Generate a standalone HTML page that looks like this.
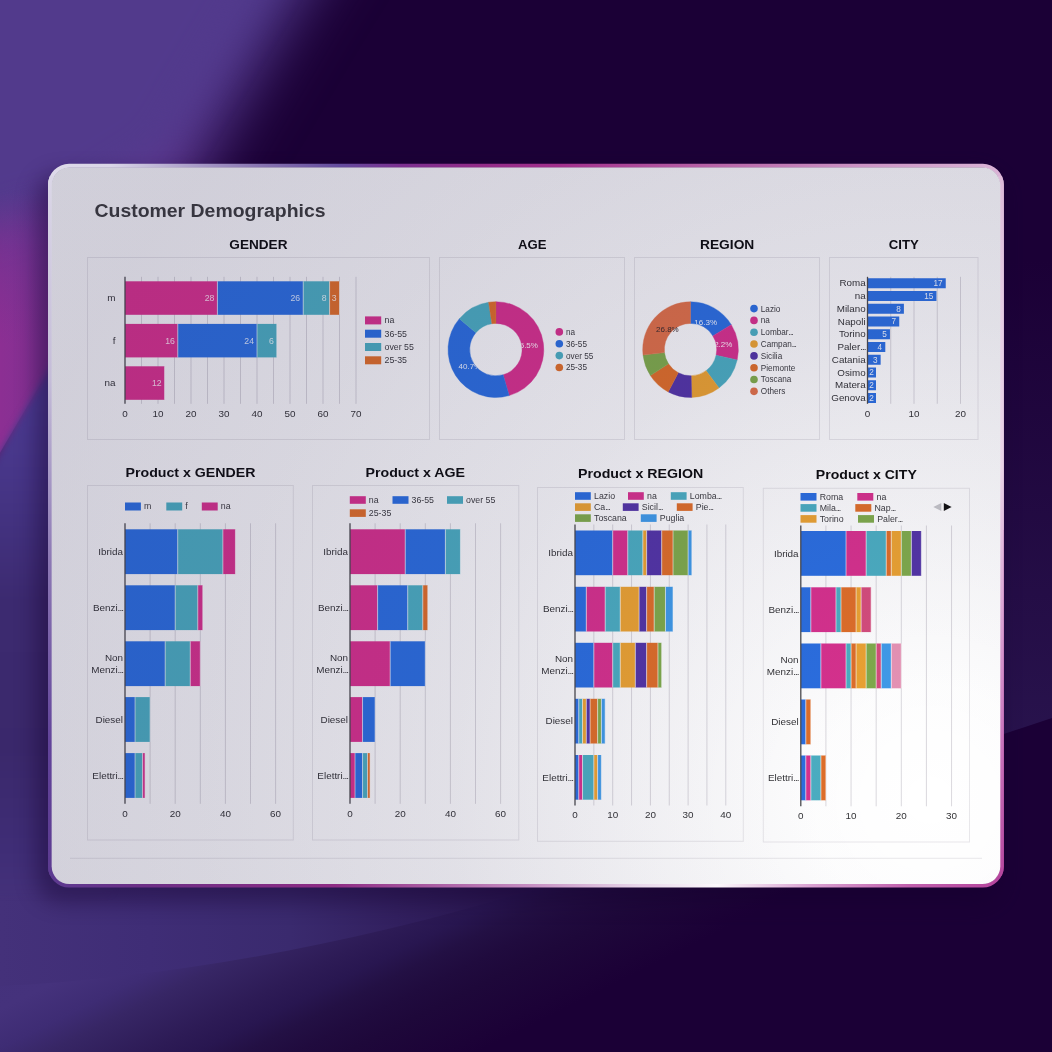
<!DOCTYPE html>
<html><head><meta charset="utf-8"><title>Customer Demographics</title>
<style>
html,body{margin:0;padding:0;width:1052px;height:1052px;overflow:hidden;background:#1b0036;}
svg{position:absolute;left:0;top:0;display:block;font-family:"Liberation Sans",sans-serif;}
</style></head><body>
<svg width="1052" height="1052" viewBox="0 0 1052 1052">
<defs>
<filter id="b30" color-interpolation-filters="sRGB" filterUnits="userSpaceOnUse" x="-300" y="-300" width="1652" height="1652"><feGaussianBlur stdDeviation="30"/></filter>
<filter id="b18" color-interpolation-filters="sRGB" filterUnits="userSpaceOnUse" x="-300" y="-300" width="1652" height="1652"><feGaussianBlur stdDeviation="18"/></filter>
<filter id="b8" color-interpolation-filters="sRGB" filterUnits="userSpaceOnUse" x="-300" y="-300" width="1652" height="1652"><feGaussianBlur stdDeviation="8"/></filter>
<filter id="soft" color-interpolation-filters="sRGB" filterUnits="userSpaceOnUse" x="40" y="150" width="980" height="750"><feGaussianBlur stdDeviation="0.35"/></filter>
<filter id="b12" color-interpolation-filters="sRGB" filterUnits="userSpaceOnUse" x="-300" y="-300" width="1652" height="1652"><feGaussianBlur stdDeviation="11"/></filter>
<filter id="b2" color-interpolation-filters="sRGB" filterUnits="userSpaceOnUse" x="-300" y="-300" width="1652" height="1652"><feGaussianBlur stdDeviation="1.2"/></filter>
<linearGradient id="tl" x1="0" y1="0" x2="0" y2="1">
 <stop offset="0" stop-color="#4f3a8c"/><stop offset="0.35" stop-color="#573a90"/><stop offset="0.62" stop-color="#743292"/><stop offset="0.8" stop-color="#862f92"/><stop offset="1" stop-color="#862f92"/>
</linearGradient>
<linearGradient id="bl" gradientUnits="userSpaceOnUse" x1="0" y1="900" x2="156.5" y2="1213">
 <stop offset="0" stop-color="#42307a"/><stop offset="0.28" stop-color="#45327c"/><stop offset="0.38" stop-color="#3e2c74"/><stop offset="0.45" stop-color="#372665"/><stop offset="0.575" stop-color="#2d1b56"/><stop offset="0.64" stop-color="#281650"/><stop offset="0.70" stop-color="#231044"/><stop offset="0.765" stop-color="#200b3e"/><stop offset="0.83" stop-color="#1e083a"/><stop offset="0.96" stop-color="#1c0237"/><stop offset="1" stop-color="#1b0036"/>
</linearGradient>
<linearGradient id="arcl" gradientUnits="userSpaceOnUse" x1="0" y1="0" x2="660" y2="0">
 <stop offset="0" stop-color="#44317a"/><stop offset="0.227" stop-color="#3f2d76"/><stop offset="0.44" stop-color="#3a2a6e"/><stop offset="0.6" stop-color="#32205f"/><stop offset="0.68" stop-color="#2e1c58"/><stop offset="0.82" stop-color="#27134b"/><stop offset="0.94" stop-color="#1f0a3c"/><stop offset="1" stop-color="#1b0036"/>
</linearGradient>
<linearGradient id="rs" gradientUnits="userSpaceOnUse" x1="0" y1="260" x2="0" y2="730">
 <stop offset="0" stop-color="#2b1752" stop-opacity="0"/><stop offset="0.5" stop-color="#2b1752" stop-opacity="0.4"/><stop offset="1" stop-color="#2b1752" stop-opacity="0.8"/>
</linearGradient>
<linearGradient id="lf" gradientUnits="userSpaceOnUse" x1="0" y1="400" x2="0" y2="900">
 <stop offset="0" stop-color="#4b3b92"/><stop offset="0.12" stop-color="#48378a"/><stop offset="0.26" stop-color="#42317e"/><stop offset="0.4" stop-color="#3c2a70"/><stop offset="0.7" stop-color="#3a286b"/><stop offset="0.9" stop-color="#3f2d76"/><stop offset="1" stop-color="#44317a"/>
</linearGradient>
<linearGradient id="mgv" gradientUnits="userSpaceOnUse" x1="0" y1="190" x2="0" y2="345">
 <stop offset="0" stop-color="#8a2f92" stop-opacity="0"/><stop offset="0.5" stop-color="#8a2f92" stop-opacity="0.5"/><stop offset="1" stop-color="#8c2f93" stop-opacity="1"/>
</linearGradient>
<linearGradient id="mgh" gradientUnits="userSpaceOnUse" x1="0" y1="0" x2="60" y2="0">
 <stop offset="0" stop-color="#5a3890" stop-opacity="0"/><stop offset="0.4" stop-color="#5a3890" stop-opacity="0.12"/><stop offset="1" stop-color="#5a3890" stop-opacity="0.5"/>
</linearGradient>
<filter id="b4" color-interpolation-filters="sRGB" filterUnits="userSpaceOnUse" x="-300" y="-300" width="1652" height="1652"><feGaussianBlur stdDeviation="3.5"/></filter>
<radialGradient id="ov" gradientUnits="userSpaceOnUse" cx="930" cy="800" r="960"><stop offset="0" stop-color="#221a4c" stop-opacity="0.0000"/><stop offset="0.12" stop-color="#221a4c" stop-opacity="0.0096"/><stop offset="0.3" stop-color="#221a4c" stop-opacity="0.0560"/><stop offset="0.5" stop-color="#221a4c" stop-opacity="0.1080"/><stop offset="0.75" stop-color="#221a4c" stop-opacity="0.1440"/><stop offset="1" stop-color="#221a4c" stop-opacity="0.1680"/></radialGradient>
<radialGradient id="cf" gradientUnits="userSpaceOnUse" cx="930" cy="800" r="960"><stop offset="0" stop-color="#221a4c" stop-opacity="0.0000"/><stop offset="0.12" stop-color="#221a4c" stop-opacity="0.0024"/><stop offset="0.3" stop-color="#221a4c" stop-opacity="0.0148"/><stop offset="0.5" stop-color="#221a4c" stop-opacity="0.0303"/><stop offset="0.75" stop-color="#221a4c" stop-opacity="0.0421"/><stop offset="1" stop-color="#221a4c" stop-opacity="0.0505"/></radialGradient>
<linearGradient id="btop" gradientUnits="userSpaceOnUse" x1="48" y1="0" x2="1004" y2="0">
 <stop offset="0" stop-color="#dedae9"/><stop offset="0.065" stop-color="#dad6e7"/><stop offset="0.16" stop-color="#a698c6"/><stop offset="0.23" stop-color="#8470ae"/><stop offset="0.305" stop-color="#644c9e"/><stop offset="0.37" stop-color="#7c3090"/><stop offset="0.45" stop-color="#922c88"/><stop offset="0.535" stop-color="#a2308c"/><stop offset="0.7" stop-color="#b866a8"/><stop offset="0.85" stop-color="#cc94c4"/><stop offset="1" stop-color="#dab4d6"/>
</linearGradient>
<linearGradient id="bbot" gradientUnits="userSpaceOnUse" x1="48" y1="0" x2="1004" y2="0">
 <stop offset="0" stop-color="#5c3a90"/><stop offset="0.1" stop-color="#6c2f86"/><stop offset="0.3" stop-color="#8e2c84"/><stop offset="0.5" stop-color="#c48cc0"/><stop offset="0.62" stop-color="#e8d8ea"/><stop offset="0.7" stop-color="#fbf8fb"/><stop offset="0.8" stop-color="#d8a0d0"/><stop offset="0.9" stop-color="#c060ac"/><stop offset="1" stop-color="#b4449c"/>
</linearGradient>
<linearGradient id="blef" gradientUnits="userSpaceOnUse" x1="0" y1="164" x2="0" y2="887">
 <stop offset="0" stop-color="#dcd8e8"/><stop offset="0.3" stop-color="#c4bcd8"/><stop offset="0.55" stop-color="#8c78b4"/><stop offset="0.8" stop-color="#62449a"/><stop offset="1" stop-color="#5c3a90"/>
</linearGradient>
<linearGradient id="brig" gradientUnits="userSpaceOnUse" x1="0" y1="164" x2="0" y2="887">
 <stop offset="0" stop-color="#dcb8d8"/><stop offset="0.2" stop-color="#e6cce4"/><stop offset="0.42" stop-color="#ead4e8"/><stop offset="0.6" stop-color="#dcaad6"/><stop offset="0.8" stop-color="#c874bc"/><stop offset="1" stop-color="#b4449c"/>
</linearGradient>
<radialGradient id="mg" gradientUnits="userSpaceOnUse" cx="-10" cy="345" r="150">
 <stop offset="0" stop-color="#8e2f93" stop-opacity="1"/><stop offset="0.5" stop-color="#882f92" stop-opacity="0.8"/><stop offset="1" stop-color="#8c2f94" stop-opacity="0"/>
</radialGradient>
<clipPath id="ring"><path clip-rule="evenodd" d="M69.0,163.8 H982.8 A21.0,21.0 0 0 1 1003.8,184.8 V866.5 A21.0,21.0 0 0 1 982.8,887.5 H69.0 A21.0,21.0 0 0 1 48.0,866.5 V184.8 A21.0,21.0 0 0 1 69.0,163.8 Z M69.5,167.8 H982.5 A17.5,17.5 0 0 1 1000.0,185.3 V866.3 A17.5,17.5 0 0 1 982.5,883.8 H69.5 A17.5,17.5 0 0 1 52.0,866.3 V185.3 A17.5,17.5 0 0 1 69.5,167.8 Z"/></clipPath>
<clipPath id="cardclip"><rect x="50" y="165.6" width="951.4" height="719.2" rx="20" ry="20"/></clipPath>
</defs>

<rect x="0" y="0" width="1052" height="1052" fill="#1b0036"/>
<path d="M985,260 L1060,260 L1060,715.4 L985,740.2 Z" fill="url(#rs)"/>
<rect x="-10" y="850" width="800" height="220" fill="url(#bl)"/>
<path d="M-40,988 L0,986 C180,978 380,938 540,887 L660,848 L-40,848 Z" fill="url(#arcl)"/>
<path d="M-80,-80 L350,-80 L300,0 L203,165 L95,400 L-80,520 Z" fill="url(#tl)" filter="url(#b30)"/>
<path d="M-60,-60 L285,-60 L250,0 L160,150 L80,200 L-60,240 Z" fill="#523a8c" filter="url(#b18)"/>
<path d="M-40,180 L110,180 L110,265 L-40,521 Z" fill="url(#mgv)"/>
<path d="M-40,180 L110,180 L110,265 L-40,521 Z" fill="url(#mgh)"/>
<path d="M110,265 L-40,521 L-40,892 L110,892 Z" fill="url(#lf)" filter="url(#b4)"/>
<rect x="36" y="174" width="964" height="728" rx="24" fill="#14002c" opacity="0.42" filter="url(#b12)"/>
<g clip-path="url(#ring)">
<rect x="40" y="150" width="980" height="380" fill="url(#btop)"/>
<rect x="40" y="530" width="980" height="370" fill="url(#bbot)"/>
<rect x="40" y="176" width="24" height="700" fill="url(#blef)"/>
<rect x="988" y="176" width="24" height="700" fill="url(#brig)"/>
</g>
<rect x="51.7" y="167.5" width="948.6" height="716.6" rx="17.8" ry="17.8" fill="#ffffff"/>
<rect x="51.7" y="167.5" width="948.6" height="716.6" rx="17.8" ry="17.8" fill="url(#cf)"/>
<g id="content" filter="url(#soft)">
<text x="94.50" y="216.50" font-size="17.6" text-anchor="start" fill="#3b3b3d" font-weight="bold" textLength="231.00" lengthAdjust="spacingAndGlyphs" >Customer Demographics</text>
<text x="229.30" y="248.70" font-size="13.6" text-anchor="start" fill="#0c0c0e" font-weight="bold" textLength="58.20" lengthAdjust="spacingAndGlyphs" >GENDER</text>
<text x="518.00" y="248.70" font-size="13.6" text-anchor="start" fill="#0c0c0e" font-weight="bold" textLength="28.50" lengthAdjust="spacingAndGlyphs" >AGE</text>
<text x="700.00" y="248.70" font-size="13.6" text-anchor="start" fill="#0c0c0e" font-weight="bold" textLength="54.30" lengthAdjust="spacingAndGlyphs" >REGION</text>
<text x="888.80" y="248.70" font-size="13.6" text-anchor="start" fill="#0c0c0e" font-weight="bold" textLength="30.00" lengthAdjust="spacingAndGlyphs" >CITY</text>
<text x="125.50" y="476.80" font-size="13.6" text-anchor="start" fill="#0c0c0e" font-weight="bold" textLength="130.00" lengthAdjust="spacingAndGlyphs" >Product x GENDER</text>
<text x="365.50" y="476.80" font-size="13.6" text-anchor="start" fill="#0c0c0e" font-weight="bold" textLength="99.50" lengthAdjust="spacingAndGlyphs" >Product x AGE</text>
<text x="578.00" y="478.10" font-size="13.6" text-anchor="start" fill="#0c0c0e" font-weight="bold" textLength="125.30" lengthAdjust="spacingAndGlyphs" >Product x REGION</text>
<text x="815.80" y="478.80" font-size="13.6" text-anchor="start" fill="#0c0c0e" font-weight="bold" textLength="101.00" lengthAdjust="spacingAndGlyphs" >Product x CITY</text>
<rect x="87.50" y="257.50" width="342.00" height="182.00" fill="none" stroke="rgba(40,30,60,0.10)" stroke-width="1"/>
<rect x="439.50" y="257.50" width="185.00" height="182.00" fill="none" stroke="rgba(40,30,60,0.10)" stroke-width="1"/>
<rect x="634.50" y="257.50" width="185.00" height="182.00" fill="none" stroke="rgba(40,30,60,0.10)" stroke-width="1"/>
<rect x="829.50" y="257.50" width="148.50" height="182.00" fill="none" stroke="rgba(40,30,60,0.10)" stroke-width="1"/>
<rect x="87.50" y="485.50" width="205.80" height="354.50" fill="none" stroke="rgba(40,30,60,0.10)" stroke-width="1"/>
<rect x="312.50" y="485.50" width="206.30" height="354.50" fill="none" stroke="rgba(40,30,60,0.10)" stroke-width="1"/>
<rect x="537.50" y="487.50" width="205.80" height="353.80" fill="none" stroke="rgba(40,30,60,0.10)" stroke-width="1"/>
<rect x="763.30" y="488.30" width="206.20" height="353.70" fill="none" stroke="rgba(40,30,60,0.10)" stroke-width="1"/>
<line x1="70.00" y1="858.30" x2="982.00" y2="858.30" stroke="rgba(40,30,60,0.10)" stroke-width="1" />
<line x1="141.50" y1="276.80" x2="141.50" y2="403.80" stroke="rgba(40,30,60,0.17)" stroke-width="1" />
<line x1="158.00" y1="276.80" x2="158.00" y2="403.80" stroke="rgba(40,30,60,0.17)" stroke-width="1" />
<line x1="174.50" y1="276.80" x2="174.50" y2="403.80" stroke="rgba(40,30,60,0.17)" stroke-width="1" />
<line x1="191.00" y1="276.80" x2="191.00" y2="403.80" stroke="rgba(40,30,60,0.17)" stroke-width="1" />
<line x1="207.50" y1="276.80" x2="207.50" y2="403.80" stroke="rgba(40,30,60,0.17)" stroke-width="1" />
<line x1="224.00" y1="276.80" x2="224.00" y2="403.80" stroke="rgba(40,30,60,0.17)" stroke-width="1" />
<line x1="240.50" y1="276.80" x2="240.50" y2="403.80" stroke="rgba(40,30,60,0.17)" stroke-width="1" />
<line x1="257.00" y1="276.80" x2="257.00" y2="403.80" stroke="rgba(40,30,60,0.17)" stroke-width="1" />
<line x1="273.50" y1="276.80" x2="273.50" y2="403.80" stroke="rgba(40,30,60,0.17)" stroke-width="1" />
<line x1="290.00" y1="276.80" x2="290.00" y2="403.80" stroke="rgba(40,30,60,0.17)" stroke-width="1" />
<line x1="306.50" y1="276.80" x2="306.50" y2="403.80" stroke="rgba(40,30,60,0.17)" stroke-width="1" />
<line x1="323.00" y1="276.80" x2="323.00" y2="403.80" stroke="rgba(40,30,60,0.17)" stroke-width="1" />
<line x1="339.50" y1="276.80" x2="339.50" y2="403.80" stroke="rgba(40,30,60,0.17)" stroke-width="1" />
<line x1="356.00" y1="276.80" x2="356.00" y2="403.80" stroke="rgba(40,30,60,0.17)" stroke-width="1" />
<rect x="125.00" y="281.30" width="92.40" height="33.50" fill="#d6318d" />
<rect x="217.40" y="281.30" width="85.80" height="33.50" fill="#2b6edf" />
<rect x="303.20" y="281.30" width="26.40" height="33.50" fill="#4badc1" />
<rect x="329.60" y="281.30" width="9.90" height="33.50" fill="#de6e29" />
<line x1="217.40" y1="281.30" x2="217.40" y2="314.80" stroke="rgba(255,255,255,0.58)" stroke-width="1" />
<line x1="303.20" y1="281.30" x2="303.20" y2="314.80" stroke="rgba(255,255,255,0.58)" stroke-width="1" />
<line x1="329.60" y1="281.30" x2="329.60" y2="314.80" stroke="rgba(255,255,255,0.58)" stroke-width="1" />
<line x1="339.50" y1="281.30" x2="339.50" y2="314.80" stroke="rgba(255,255,255,0.58)" stroke-width="1" />
<rect x="125.00" y="323.90" width="52.80" height="33.50" fill="#d6318d" />
<rect x="177.80" y="323.90" width="79.20" height="33.50" fill="#2b6edf" />
<rect x="257.00" y="323.90" width="19.80" height="33.50" fill="#4badc1" />
<line x1="177.80" y1="323.90" x2="177.80" y2="357.40" stroke="rgba(255,255,255,0.58)" stroke-width="1" />
<line x1="257.00" y1="323.90" x2="257.00" y2="357.40" stroke="rgba(255,255,255,0.58)" stroke-width="1" />
<line x1="276.80" y1="323.90" x2="276.80" y2="357.40" stroke="rgba(255,255,255,0.58)" stroke-width="1" />
<rect x="125.00" y="366.30" width="39.60" height="33.50" fill="#d6318d" />
<line x1="164.60" y1="366.30" x2="164.60" y2="399.80" stroke="rgba(255,255,255,0.58)" stroke-width="1" />
<text x="214.40" y="301.15" font-size="8.7" text-anchor="end" fill="rgba(255,255,255,0.8)" >28</text>
<text x="300.20" y="301.15" font-size="8.7" text-anchor="end" fill="rgba(255,255,255,0.8)" >26</text>
<text x="326.60" y="301.15" font-size="8.7" text-anchor="end" fill="rgba(255,255,255,0.8)" >8</text>
<text x="336.50" y="301.15" font-size="8.7" text-anchor="end" fill="rgba(255,255,255,0.8)" >3</text>
<text x="174.80" y="343.75" font-size="8.7" text-anchor="end" fill="rgba(255,255,255,0.8)" >16</text>
<text x="254.00" y="343.75" font-size="8.7" text-anchor="end" fill="rgba(255,255,255,0.8)" >24</text>
<text x="273.80" y="343.75" font-size="8.7" text-anchor="end" fill="rgba(255,255,255,0.8)" >6</text>
<text x="161.60" y="386.15" font-size="8.7" text-anchor="end" fill="rgba(255,255,255,0.8)" >12</text>
<line x1="125.00" y1="276.80" x2="125.00" y2="403.80" stroke="#4a4a4e" stroke-width="1.3" />
<text x="115.50" y="301.05" font-size="9.9" text-anchor="end" fill="#333336" >m</text>
<text x="115.50" y="343.65" font-size="9.9" text-anchor="end" fill="#333336" >f</text>
<text x="115.50" y="386.05" font-size="9.9" text-anchor="end" fill="#333336" >na</text>
<text x="125.00" y="416.70" font-size="9.9" text-anchor="middle" fill="#333336" >0</text>
<text x="158.00" y="416.70" font-size="9.9" text-anchor="middle" fill="#333336" >10</text>
<text x="191.00" y="416.70" font-size="9.9" text-anchor="middle" fill="#333336" >20</text>
<text x="224.00" y="416.70" font-size="9.9" text-anchor="middle" fill="#333336" >30</text>
<text x="257.00" y="416.70" font-size="9.9" text-anchor="middle" fill="#333336" >40</text>
<text x="290.00" y="416.70" font-size="9.9" text-anchor="middle" fill="#333336" >50</text>
<text x="323.00" y="416.70" font-size="9.9" text-anchor="middle" fill="#333336" >60</text>
<text x="356.00" y="416.70" font-size="9.9" text-anchor="middle" fill="#333336" >70</text>
<rect x="365.00" y="316.40" width="16.20" height="8.00" fill="#d6318d" />
<text x="384.50" y="323.30" font-size="8.8" text-anchor="start" fill="#3a3a3e" >na</text>
<rect x="365.00" y="329.70" width="16.20" height="8.00" fill="#2b6edf" />
<text x="384.50" y="336.60" font-size="8.8" text-anchor="start" fill="#3a3a3e" >36-55</text>
<rect x="365.00" y="343.00" width="16.20" height="8.00" fill="#4badc1" />
<text x="384.50" y="349.90" font-size="8.8" text-anchor="start" fill="#3a3a3e" >over 55</text>
<rect x="365.00" y="356.30" width="16.20" height="8.00" fill="#de6e29" />
<text x="384.50" y="363.20" font-size="8.8" text-anchor="start" fill="#3a3a3e" >25-35</text>
<path d="M495.90,301.70 A47.9,47.9 0 0 1 509.18,395.62 L503.16,374.77 A26.2,26.2 0 0 0 495.90,323.40 Z" fill="#d6318d" stroke="#d6318d" stroke-width="0.4"/>
<path d="M509.18,395.62 A47.9,47.9 0 0 1 459.34,318.65 L475.90,332.67 A26.2,26.2 0 0 0 503.16,374.77 Z" fill="#2b6edf" stroke="#2b6edf" stroke-width="0.4"/>
<path d="M459.34,318.65 A47.9,47.9 0 0 1 488.59,302.26 L491.90,323.71 A26.2,26.2 0 0 0 475.90,332.67 Z" fill="#4badc1" stroke="#4badc1" stroke-width="0.4"/>
<path d="M488.59,302.26 A47.9,47.9 0 0 1 495.90,301.70 L495.90,323.40 A26.2,26.2 0 0 0 491.90,323.71 Z" fill="#de6e29" stroke="#de6e29" stroke-width="0.4"/>
<clipPath id="dh1"><path clip-rule="evenodd" d="M415.9,269.6 h160 v160 h-160 Z M469.7,349.6 a26.2,26.2 0 1 0 52.4,0 a26.2,26.2 0 1 0 -52.4,0 Z"/></clipPath>
<g clip-path="url(#dh1)">
<text x="526.59" y="348.06" font-size="8.0" text-anchor="middle" fill="rgba(255,255,255,0.9)" >45.5%</text>
<text x="469.88" y="369.25" font-size="8.0" text-anchor="middle" fill="rgba(255,255,255,0.9)" >40.7%</text>
</g>
<circle cx="559.3" cy="331.90" r="3.8" fill="#d6318d"/>
<text x="566.00" y="334.80" font-size="8.2" text-anchor="start" fill="#3a3a3e" >na</text>
<circle cx="559.3" cy="343.75" r="3.8" fill="#2b6edf"/>
<text x="566.00" y="346.65" font-size="8.2" text-anchor="start" fill="#3a3a3e" >36-55</text>
<circle cx="559.3" cy="355.60" r="3.8" fill="#4badc1"/>
<text x="566.00" y="358.50" font-size="8.2" text-anchor="start" fill="#3a3a3e" >over 55</text>
<circle cx="559.3" cy="367.45" r="3.8" fill="#de6e29"/>
<text x="566.00" y="370.35" font-size="8.2" text-anchor="start" fill="#3a3a3e" >25-35</text>
<path d="M690.50,301.80 A47.8,47.8 0 0 1 731.27,324.65 L712.85,335.92 A26.2,26.2 0 0 0 690.50,323.40 Z" fill="#2b6edf" stroke="#2b6edf" stroke-width="0.4"/>
<path d="M731.27,324.65 A47.8,47.8 0 0 1 737.18,359.90 L716.08,355.24 A26.2,26.2 0 0 0 712.85,335.92 Z" fill="#d6318d" stroke="#d6318d" stroke-width="0.4"/>
<path d="M737.18,359.90 A47.8,47.8 0 0 1 718.99,387.98 L706.12,370.64 A26.2,26.2 0 0 0 716.08,355.24 Z" fill="#4badc1" stroke="#4badc1" stroke-width="0.4"/>
<path d="M718.99,387.98 A47.8,47.8 0 0 1 691.72,397.38 L691.17,375.79 A26.2,26.2 0 0 0 706.12,370.64 Z" fill="#eaa232" stroke="#eaa232" stroke-width="0.4"/>
<path d="M691.72,397.38 A47.8,47.8 0 0 1 668.20,391.88 L678.28,372.77 A26.2,26.2 0 0 0 691.17,375.79 Z" fill="#5335a6" stroke="#5335a6" stroke-width="0.4"/>
<path d="M668.20,391.88 A47.8,47.8 0 0 1 650.38,375.58 L668.51,363.84 A26.2,26.2 0 0 0 678.28,372.77 Z" fill="#de6e29" stroke="#de6e29" stroke-width="0.4"/>
<path d="M650.38,375.58 A47.8,47.8 0 0 1 643.02,355.08 L664.47,352.60 A26.2,26.2 0 0 0 668.51,363.84 Z" fill="#7faa4b" stroke="#7faa4b" stroke-width="0.4"/>
<path d="M643.02,355.08 A47.8,47.8 0 0 1 690.50,301.80 L690.50,323.40 A26.2,26.2 0 0 0 664.47,352.60 Z" fill="#de7048" stroke="#de7048" stroke-width="0.4"/>
<clipPath id="dh2"><path clip-rule="evenodd" d="M610.5,269.6 h160 v160 h-160 Z M664.3,349.6 a26.2,26.2 0 1 0 52.4,0 a26.2,26.2 0 1 0 -52.4,0 Z"/></clipPath>
<g clip-path="url(#dh2)">
<text x="705.66" y="325.36" font-size="8.0" text-anchor="middle" fill="rgba(255,255,255,0.9)" >16.3%</text>
<text x="721.07" y="347.28" font-size="8.0" text-anchor="middle" fill="rgba(255,255,255,0.9)" >12.2%</text>
</g>
<text x="667.36" y="331.77" font-size="8.0" text-anchor="middle" fill="#3a2a2a" >26.8%</text>
<circle cx="754" cy="308.60" r="3.8" fill="#2b6edf"/>
<text x="760.80" y="311.50" font-size="8.2" text-anchor="start" fill="#3a3a3e" >Lazio</text>
<circle cx="754" cy="320.42" r="3.8" fill="#d6318d"/>
<text x="760.80" y="323.32" font-size="8.2" text-anchor="start" fill="#3a3a3e" >na</text>
<circle cx="754" cy="332.24" r="3.8" fill="#4badc1"/>
<text x="760.80" y="335.14" font-size="8.2" text-anchor="start" fill="#3a3a3e" >Lombar<tspan letter-spacing="-0.95">...</tspan></text>
<circle cx="754" cy="344.06" r="3.8" fill="#eaa232"/>
<text x="760.80" y="346.96" font-size="8.2" text-anchor="start" fill="#3a3a3e" >Campan<tspan letter-spacing="-0.95">...</tspan></text>
<circle cx="754" cy="355.88" r="3.8" fill="#5335a6"/>
<text x="760.80" y="358.78" font-size="8.2" text-anchor="start" fill="#3a3a3e" >Sicilia</text>
<circle cx="754" cy="367.70" r="3.8" fill="#de6e29"/>
<text x="760.80" y="370.60" font-size="8.2" text-anchor="start" fill="#3a3a3e" >Piemonte</text>
<circle cx="754" cy="379.52" r="3.8" fill="#7faa4b"/>
<text x="760.80" y="382.42" font-size="8.2" text-anchor="start" fill="#3a3a3e" >Toscana</text>
<circle cx="754" cy="391.34" r="3.8" fill="#de7048"/>
<text x="760.80" y="394.24" font-size="8.2" text-anchor="start" fill="#3a3a3e" >Others</text>
<line x1="890.75" y1="276.80" x2="890.75" y2="403.80" stroke="rgba(40,30,60,0.17)" stroke-width="1" />
<line x1="914.00" y1="276.80" x2="914.00" y2="403.80" stroke="rgba(40,30,60,0.17)" stroke-width="1" />
<line x1="937.25" y1="276.80" x2="937.25" y2="403.80" stroke="rgba(40,30,60,0.17)" stroke-width="1" />
<line x1="960.50" y1="276.80" x2="960.50" y2="403.80" stroke="rgba(40,30,60,0.17)" stroke-width="1" />
<rect x="867.50" y="278.25" width="78.25" height="10.00" fill="#2b6edf" />
<text x="942.55" y="286.15" font-size="8.2" text-anchor="end" fill="rgba(255,255,255,0.9)" >17</text>
<text x="865.60" y="286.35" font-size="9.8" text-anchor="end" fill="#333336" >Roma</text>
<rect x="867.50" y="291.00" width="68.95" height="10.00" fill="#2b6edf" />
<text x="933.25" y="298.90" font-size="8.2" text-anchor="end" fill="rgba(255,255,255,0.9)" >15</text>
<text x="865.60" y="299.10" font-size="9.8" text-anchor="end" fill="#333336" >na</text>
<rect x="867.50" y="303.75" width="36.40" height="10.00" fill="#2b6edf" />
<text x="900.70" y="311.65" font-size="8.2" text-anchor="end" fill="rgba(255,255,255,0.9)" >8</text>
<text x="865.60" y="311.85" font-size="9.8" text-anchor="end" fill="#333336" >Milano</text>
<rect x="867.50" y="316.50" width="31.75" height="10.00" fill="#2b6edf" />
<text x="896.05" y="324.40" font-size="8.2" text-anchor="end" fill="rgba(255,255,255,0.9)" >7</text>
<text x="865.60" y="324.60" font-size="9.8" text-anchor="end" fill="#333336" >Napoli</text>
<rect x="867.50" y="329.25" width="22.45" height="10.00" fill="#2b6edf" />
<text x="886.75" y="337.15" font-size="8.2" text-anchor="end" fill="rgba(255,255,255,0.9)" >5</text>
<text x="865.60" y="337.35" font-size="9.8" text-anchor="end" fill="#333336" >Torino</text>
<rect x="867.50" y="342.00" width="17.80" height="10.00" fill="#2b6edf" />
<text x="882.10" y="349.90" font-size="8.2" text-anchor="end" fill="rgba(255,255,255,0.9)" >4</text>
<text x="865.60" y="350.10" font-size="9.8" text-anchor="end" fill="#333336" >Paler<tspan letter-spacing="-0.95">...</tspan></text>
<rect x="867.50" y="354.75" width="13.15" height="10.00" fill="#2b6edf" />
<text x="877.45" y="362.65" font-size="8.2" text-anchor="end" fill="rgba(255,255,255,0.9)" >3</text>
<text x="865.60" y="362.85" font-size="9.8" text-anchor="end" fill="#333336" >Catania</text>
<rect x="867.50" y="367.50" width="8.50" height="10.00" fill="#2b6edf" />
<text x="873.80" y="375.40" font-size="8.2" text-anchor="end" fill="rgba(255,255,255,0.9)" >2</text>
<text x="865.60" y="375.60" font-size="9.8" text-anchor="end" fill="#333336" >Osimo</text>
<rect x="867.50" y="380.25" width="8.50" height="10.00" fill="#2b6edf" />
<text x="873.80" y="388.15" font-size="8.2" text-anchor="end" fill="rgba(255,255,255,0.9)" >2</text>
<text x="865.60" y="388.35" font-size="9.8" text-anchor="end" fill="#333336" >Matera</text>
<rect x="867.50" y="393.00" width="8.50" height="10.00" fill="#2b6edf" />
<text x="873.80" y="400.90" font-size="8.2" text-anchor="end" fill="rgba(255,255,255,0.9)" >2</text>
<text x="865.60" y="401.10" font-size="9.8" text-anchor="end" fill="#333336" >Genova</text>
<line x1="867.50" y1="276.80" x2="867.50" y2="403.80" stroke="#4a4a4e" stroke-width="1.3" />
<text x="867.50" y="416.70" font-size="9.9" text-anchor="middle" fill="#333336" >0</text>
<text x="914.00" y="416.70" font-size="9.9" text-anchor="middle" fill="#333336" >10</text>
<text x="960.50" y="416.70" font-size="9.9" text-anchor="middle" fill="#333336" >20</text>
<line x1="150.10" y1="523.30" x2="150.10" y2="803.80" stroke="rgba(40,30,60,0.17)" stroke-width="1" />
<line x1="175.20" y1="523.30" x2="175.20" y2="803.80" stroke="rgba(40,30,60,0.17)" stroke-width="1" />
<line x1="200.30" y1="523.30" x2="200.30" y2="803.80" stroke="rgba(40,30,60,0.17)" stroke-width="1" />
<line x1="225.40" y1="523.30" x2="225.40" y2="803.80" stroke="rgba(40,30,60,0.17)" stroke-width="1" />
<line x1="250.50" y1="523.30" x2="250.50" y2="803.80" stroke="rgba(40,30,60,0.17)" stroke-width="1" />
<line x1="275.60" y1="523.30" x2="275.60" y2="803.80" stroke="rgba(40,30,60,0.17)" stroke-width="1" />
<rect x="125.00" y="529.30" width="52.71" height="44.80" fill="#2b6edf" />
<rect x="177.71" y="529.30" width="45.18" height="44.80" fill="#4badc1" />
<rect x="222.89" y="529.30" width="12.55" height="44.80" fill="#d6318d" />
<line x1="177.71" y1="529.30" x2="177.71" y2="574.10" stroke="rgba(255,255,255,0.58)" stroke-width="1" />
<line x1="222.89" y1="529.30" x2="222.89" y2="574.10" stroke="rgba(255,255,255,0.58)" stroke-width="1" />
<line x1="235.44" y1="529.30" x2="235.44" y2="574.10" stroke="rgba(255,255,255,0.58)" stroke-width="1" />
<rect x="125.00" y="585.30" width="50.20" height="44.80" fill="#2b6edf" />
<rect x="175.20" y="585.30" width="22.59" height="44.80" fill="#4badc1" />
<rect x="197.79" y="585.30" width="5.02" height="44.80" fill="#d6318d" />
<line x1="175.20" y1="585.30" x2="175.20" y2="630.10" stroke="rgba(255,255,255,0.58)" stroke-width="1" />
<line x1="197.79" y1="585.30" x2="197.79" y2="630.10" stroke="rgba(255,255,255,0.58)" stroke-width="1" />
<line x1="202.81" y1="585.30" x2="202.81" y2="630.10" stroke="rgba(255,255,255,0.58)" stroke-width="1" />
<rect x="125.00" y="641.30" width="40.16" height="44.80" fill="#2b6edf" />
<rect x="165.16" y="641.30" width="25.10" height="44.80" fill="#4badc1" />
<rect x="190.26" y="641.30" width="10.04" height="44.80" fill="#d6318d" />
<line x1="165.16" y1="641.30" x2="165.16" y2="686.10" stroke="rgba(255,255,255,0.58)" stroke-width="1" />
<line x1="190.26" y1="641.30" x2="190.26" y2="686.10" stroke="rgba(255,255,255,0.58)" stroke-width="1" />
<line x1="200.30" y1="641.30" x2="200.30" y2="686.10" stroke="rgba(255,255,255,0.58)" stroke-width="1" />
<rect x="125.00" y="697.10" width="10.04" height="44.80" fill="#2b6edf" />
<rect x="135.04" y="697.10" width="15.06" height="44.80" fill="#4badc1" />
<line x1="135.04" y1="697.10" x2="135.04" y2="741.90" stroke="rgba(255,255,255,0.58)" stroke-width="1" />
<line x1="150.10" y1="697.10" x2="150.10" y2="741.90" stroke="rgba(255,255,255,0.58)" stroke-width="1" />
<rect x="125.00" y="753.10" width="10.04" height="44.80" fill="#2b6edf" />
<rect x="135.04" y="753.10" width="7.53" height="44.80" fill="#4badc1" />
<rect x="142.57" y="753.10" width="2.51" height="44.80" fill="#d6318d" />
<line x1="135.04" y1="753.10" x2="135.04" y2="797.90" stroke="rgba(255,255,255,0.58)" stroke-width="1" />
<line x1="142.57" y1="753.10" x2="142.57" y2="797.90" stroke="rgba(255,255,255,0.58)" stroke-width="1" />
<line x1="145.08" y1="753.10" x2="145.08" y2="797.90" stroke="rgba(255,255,255,0.58)" stroke-width="1" />
<line x1="125.00" y1="523.30" x2="125.00" y2="803.80" stroke="#4a4a4e" stroke-width="1.3" />
<text x="123.00" y="554.90" font-size="9.9" text-anchor="end" fill="#333336" >Ibrida</text>
<text x="123.00" y="610.90" font-size="9.9" text-anchor="end" fill="#333336" >Benzi<tspan letter-spacing="-0.95">...</tspan></text>
<text x="123.00" y="660.60" font-size="9.9" text-anchor="end" fill="#333336" >Non</text>
<text x="123.00" y="672.70" font-size="9.9" text-anchor="end" fill="#333336" >Menzi<tspan letter-spacing="-0.95">...</tspan></text>
<text x="123.00" y="722.70" font-size="9.9" text-anchor="end" fill="#333336" >Diesel</text>
<text x="123.00" y="778.70" font-size="9.9" text-anchor="end" fill="#333336" >Elettri<tspan letter-spacing="-0.95">...</tspan></text>
<text x="125.00" y="816.60" font-size="9.9" text-anchor="middle" fill="#333336" >0</text>
<text x="175.20" y="816.60" font-size="9.9" text-anchor="middle" fill="#333336" >20</text>
<text x="225.40" y="816.60" font-size="9.9" text-anchor="middle" fill="#333336" >40</text>
<text x="275.60" y="816.60" font-size="9.9" text-anchor="middle" fill="#333336" >60</text>
<rect x="125.00" y="502.50" width="15.90" height="8.00" fill="#2b6edf" />
<text x="144.00" y="509.40" font-size="8.8" text-anchor="start" fill="#3a3a3e" >m</text>
<rect x="166.30" y="502.50" width="15.90" height="8.00" fill="#4badc1" />
<text x="185.30" y="509.40" font-size="8.8" text-anchor="start" fill="#3a3a3e" >f</text>
<rect x="201.80" y="502.50" width="15.90" height="8.00" fill="#d6318d" />
<text x="220.80" y="509.40" font-size="8.8" text-anchor="start" fill="#3a3a3e" >na</text>
<line x1="375.10" y1="523.30" x2="375.10" y2="803.80" stroke="rgba(40,30,60,0.17)" stroke-width="1" />
<line x1="400.20" y1="523.30" x2="400.20" y2="803.80" stroke="rgba(40,30,60,0.17)" stroke-width="1" />
<line x1="425.30" y1="523.30" x2="425.30" y2="803.80" stroke="rgba(40,30,60,0.17)" stroke-width="1" />
<line x1="450.40" y1="523.30" x2="450.40" y2="803.80" stroke="rgba(40,30,60,0.17)" stroke-width="1" />
<line x1="475.50" y1="523.30" x2="475.50" y2="803.80" stroke="rgba(40,30,60,0.17)" stroke-width="1" />
<line x1="500.60" y1="523.30" x2="500.60" y2="803.80" stroke="rgba(40,30,60,0.17)" stroke-width="1" />
<rect x="350.00" y="529.30" width="55.22" height="44.80" fill="#d6318d" />
<rect x="405.22" y="529.30" width="40.16" height="44.80" fill="#2b6edf" />
<rect x="445.38" y="529.30" width="15.06" height="44.80" fill="#4badc1" />
<line x1="405.22" y1="529.30" x2="405.22" y2="574.10" stroke="rgba(255,255,255,0.58)" stroke-width="1" />
<line x1="445.38" y1="529.30" x2="445.38" y2="574.10" stroke="rgba(255,255,255,0.58)" stroke-width="1" />
<line x1="460.44" y1="529.30" x2="460.44" y2="574.10" stroke="rgba(255,255,255,0.58)" stroke-width="1" />
<rect x="350.00" y="585.30" width="27.61" height="44.80" fill="#d6318d" />
<rect x="377.61" y="585.30" width="30.12" height="44.80" fill="#2b6edf" />
<rect x="407.73" y="585.30" width="15.06" height="44.80" fill="#4badc1" />
<rect x="422.79" y="585.30" width="5.02" height="44.80" fill="#de6e29" />
<line x1="377.61" y1="585.30" x2="377.61" y2="630.10" stroke="rgba(255,255,255,0.58)" stroke-width="1" />
<line x1="407.73" y1="585.30" x2="407.73" y2="630.10" stroke="rgba(255,255,255,0.58)" stroke-width="1" />
<line x1="422.79" y1="585.30" x2="422.79" y2="630.10" stroke="rgba(255,255,255,0.58)" stroke-width="1" />
<line x1="427.81" y1="585.30" x2="427.81" y2="630.10" stroke="rgba(255,255,255,0.58)" stroke-width="1" />
<rect x="350.00" y="641.30" width="40.16" height="44.80" fill="#d6318d" />
<rect x="390.16" y="641.30" width="35.14" height="44.80" fill="#2b6edf" />
<line x1="390.16" y1="641.30" x2="390.16" y2="686.10" stroke="rgba(255,255,255,0.58)" stroke-width="1" />
<line x1="425.30" y1="641.30" x2="425.30" y2="686.10" stroke="rgba(255,255,255,0.58)" stroke-width="1" />
<rect x="350.00" y="697.10" width="12.55" height="44.80" fill="#d6318d" />
<rect x="362.55" y="697.10" width="12.55" height="44.80" fill="#2b6edf" />
<line x1="362.55" y1="697.10" x2="362.55" y2="741.90" stroke="rgba(255,255,255,0.58)" stroke-width="1" />
<line x1="375.10" y1="697.10" x2="375.10" y2="741.90" stroke="rgba(255,255,255,0.58)" stroke-width="1" />
<rect x="350.00" y="753.10" width="5.02" height="44.80" fill="#d6318d" />
<rect x="355.02" y="753.10" width="7.53" height="44.80" fill="#2b6edf" />
<rect x="362.55" y="753.10" width="5.02" height="44.80" fill="#4badc1" />
<rect x="367.57" y="753.10" width="2.51" height="44.80" fill="#de6e29" />
<line x1="355.02" y1="753.10" x2="355.02" y2="797.90" stroke="rgba(255,255,255,0.58)" stroke-width="1" />
<line x1="362.55" y1="753.10" x2="362.55" y2="797.90" stroke="rgba(255,255,255,0.58)" stroke-width="1" />
<line x1="367.57" y1="753.10" x2="367.57" y2="797.90" stroke="rgba(255,255,255,0.58)" stroke-width="1" />
<line x1="370.08" y1="753.10" x2="370.08" y2="797.90" stroke="rgba(255,255,255,0.58)" stroke-width="1" />
<line x1="350.00" y1="523.30" x2="350.00" y2="803.80" stroke="#4a4a4e" stroke-width="1.3" />
<text x="348.00" y="554.90" font-size="9.9" text-anchor="end" fill="#333336" >Ibrida</text>
<text x="348.00" y="610.90" font-size="9.9" text-anchor="end" fill="#333336" >Benzi<tspan letter-spacing="-0.95">...</tspan></text>
<text x="348.00" y="660.60" font-size="9.9" text-anchor="end" fill="#333336" >Non</text>
<text x="348.00" y="672.70" font-size="9.9" text-anchor="end" fill="#333336" >Menzi<tspan letter-spacing="-0.95">...</tspan></text>
<text x="348.00" y="722.70" font-size="9.9" text-anchor="end" fill="#333336" >Diesel</text>
<text x="348.00" y="778.70" font-size="9.9" text-anchor="end" fill="#333336" >Elettri<tspan letter-spacing="-0.95">...</tspan></text>
<text x="350.00" y="816.60" font-size="9.9" text-anchor="middle" fill="#333336" >0</text>
<text x="400.20" y="816.60" font-size="9.9" text-anchor="middle" fill="#333336" >20</text>
<text x="450.40" y="816.60" font-size="9.9" text-anchor="middle" fill="#333336" >40</text>
<text x="500.60" y="816.60" font-size="9.9" text-anchor="middle" fill="#333336" >60</text>
<rect x="349.80" y="496.20" width="16.00" height="7.60" fill="#d6318d" />
<text x="368.80" y="503.00" font-size="8.8" text-anchor="start" fill="#3a3a3e" >na</text>
<rect x="392.50" y="496.20" width="16.00" height="7.60" fill="#2b6edf" />
<text x="411.50" y="503.00" font-size="8.8" text-anchor="start" fill="#3a3a3e" >36-55</text>
<rect x="447.00" y="496.20" width="16.00" height="7.60" fill="#4badc1" />
<text x="466.00" y="503.00" font-size="8.8" text-anchor="start" fill="#3a3a3e" >over 55</text>
<rect x="349.80" y="509.30" width="16.00" height="7.60" fill="#de6e29" />
<text x="368.80" y="516.10" font-size="8.8" text-anchor="start" fill="#3a3a3e" >25-35</text>
<line x1="593.85" y1="524.50" x2="593.85" y2="805.50" stroke="rgba(40,30,60,0.17)" stroke-width="1" />
<line x1="612.70" y1="524.50" x2="612.70" y2="805.50" stroke="rgba(40,30,60,0.17)" stroke-width="1" />
<line x1="631.55" y1="524.50" x2="631.55" y2="805.50" stroke="rgba(40,30,60,0.17)" stroke-width="1" />
<line x1="650.40" y1="524.50" x2="650.40" y2="805.50" stroke="rgba(40,30,60,0.17)" stroke-width="1" />
<line x1="669.25" y1="524.50" x2="669.25" y2="805.50" stroke="rgba(40,30,60,0.17)" stroke-width="1" />
<line x1="688.10" y1="524.50" x2="688.10" y2="805.50" stroke="rgba(40,30,60,0.17)" stroke-width="1" />
<line x1="706.95" y1="524.50" x2="706.95" y2="805.50" stroke="rgba(40,30,60,0.17)" stroke-width="1" />
<line x1="725.80" y1="524.50" x2="725.80" y2="805.50" stroke="rgba(40,30,60,0.17)" stroke-width="1" />
<rect x="575.00" y="530.50" width="37.70" height="44.70" fill="#2b6edf" />
<rect x="612.70" y="530.50" width="15.08" height="44.70" fill="#d6318d" />
<rect x="627.78" y="530.50" width="15.08" height="44.70" fill="#4badc1" />
<rect x="642.86" y="530.50" width="3.77" height="44.70" fill="#eaa232" />
<rect x="646.63" y="530.50" width="15.08" height="44.70" fill="#5335a6" />
<rect x="661.71" y="530.50" width="11.31" height="44.70" fill="#de6e29" />
<rect x="673.02" y="530.50" width="15.08" height="44.70" fill="#7faa4b" />
<rect x="688.10" y="530.50" width="3.77" height="44.70" fill="#3f9ae8" />
<line x1="612.70" y1="530.50" x2="612.70" y2="575.20" stroke="rgba(255,255,255,0.58)" stroke-width="1" />
<line x1="627.78" y1="530.50" x2="627.78" y2="575.20" stroke="rgba(255,255,255,0.58)" stroke-width="1" />
<line x1="642.86" y1="530.50" x2="642.86" y2="575.20" stroke="rgba(255,255,255,0.58)" stroke-width="1" />
<line x1="646.63" y1="530.50" x2="646.63" y2="575.20" stroke="rgba(255,255,255,0.58)" stroke-width="1" />
<line x1="661.71" y1="530.50" x2="661.71" y2="575.20" stroke="rgba(255,255,255,0.58)" stroke-width="1" />
<line x1="673.02" y1="530.50" x2="673.02" y2="575.20" stroke="rgba(255,255,255,0.58)" stroke-width="1" />
<line x1="688.10" y1="530.50" x2="688.10" y2="575.20" stroke="rgba(255,255,255,0.58)" stroke-width="1" />
<line x1="691.87" y1="530.50" x2="691.87" y2="575.20" stroke="rgba(255,255,255,0.58)" stroke-width="1" />
<rect x="575.00" y="586.80" width="11.31" height="44.70" fill="#2b6edf" />
<rect x="586.31" y="586.80" width="18.85" height="44.70" fill="#d6318d" />
<rect x="605.16" y="586.80" width="15.08" height="44.70" fill="#4badc1" />
<rect x="620.24" y="586.80" width="18.85" height="44.70" fill="#eaa232" />
<rect x="639.09" y="586.80" width="7.54" height="44.70" fill="#5335a6" />
<rect x="646.63" y="586.80" width="7.54" height="44.70" fill="#de6e29" />
<rect x="654.17" y="586.80" width="11.31" height="44.70" fill="#7faa4b" />
<rect x="665.48" y="586.80" width="7.54" height="44.70" fill="#3f9ae8" />
<line x1="586.31" y1="586.80" x2="586.31" y2="631.50" stroke="rgba(255,255,255,0.58)" stroke-width="1" />
<line x1="605.16" y1="586.80" x2="605.16" y2="631.50" stroke="rgba(255,255,255,0.58)" stroke-width="1" />
<line x1="620.24" y1="586.80" x2="620.24" y2="631.50" stroke="rgba(255,255,255,0.58)" stroke-width="1" />
<line x1="639.09" y1="586.80" x2="639.09" y2="631.50" stroke="rgba(255,255,255,0.58)" stroke-width="1" />
<line x1="646.63" y1="586.80" x2="646.63" y2="631.50" stroke="rgba(255,255,255,0.58)" stroke-width="1" />
<line x1="654.17" y1="586.80" x2="654.17" y2="631.50" stroke="rgba(255,255,255,0.58)" stroke-width="1" />
<line x1="665.48" y1="586.80" x2="665.48" y2="631.50" stroke="rgba(255,255,255,0.58)" stroke-width="1" />
<line x1="673.02" y1="586.80" x2="673.02" y2="631.50" stroke="rgba(255,255,255,0.58)" stroke-width="1" />
<rect x="575.00" y="642.80" width="18.85" height="44.70" fill="#2b6edf" />
<rect x="593.85" y="642.80" width="18.85" height="44.70" fill="#d6318d" />
<rect x="612.70" y="642.80" width="7.54" height="44.70" fill="#4badc1" />
<rect x="620.24" y="642.80" width="15.08" height="44.70" fill="#eaa232" />
<rect x="635.32" y="642.80" width="11.31" height="44.70" fill="#5335a6" />
<rect x="646.63" y="642.80" width="11.31" height="44.70" fill="#de6e29" />
<rect x="657.94" y="642.80" width="3.77" height="44.70" fill="#7faa4b" />
<line x1="593.85" y1="642.80" x2="593.85" y2="687.50" stroke="rgba(255,255,255,0.58)" stroke-width="1" />
<line x1="612.70" y1="642.80" x2="612.70" y2="687.50" stroke="rgba(255,255,255,0.58)" stroke-width="1" />
<line x1="620.24" y1="642.80" x2="620.24" y2="687.50" stroke="rgba(255,255,255,0.58)" stroke-width="1" />
<line x1="635.32" y1="642.80" x2="635.32" y2="687.50" stroke="rgba(255,255,255,0.58)" stroke-width="1" />
<line x1="646.63" y1="642.80" x2="646.63" y2="687.50" stroke="rgba(255,255,255,0.58)" stroke-width="1" />
<line x1="657.94" y1="642.80" x2="657.94" y2="687.50" stroke="rgba(255,255,255,0.58)" stroke-width="1" />
<line x1="661.71" y1="642.80" x2="661.71" y2="687.50" stroke="rgba(255,255,255,0.58)" stroke-width="1" />
<rect x="575.00" y="698.80" width="3.77" height="44.70" fill="#2b6edf" />
<rect x="578.77" y="698.80" width="3.77" height="44.70" fill="#4badc1" />
<rect x="582.54" y="698.80" width="3.77" height="44.70" fill="#eaa232" />
<rect x="586.31" y="698.80" width="3.77" height="44.70" fill="#5335a6" />
<rect x="590.08" y="698.80" width="7.54" height="44.70" fill="#de6e29" />
<rect x="597.62" y="698.80" width="3.77" height="44.70" fill="#7faa4b" />
<rect x="601.39" y="698.80" width="3.77" height="44.70" fill="#3f9ae8" />
<line x1="578.77" y1="698.80" x2="578.77" y2="743.50" stroke="rgba(255,255,255,0.58)" stroke-width="1" />
<line x1="582.54" y1="698.80" x2="582.54" y2="743.50" stroke="rgba(255,255,255,0.58)" stroke-width="1" />
<line x1="586.31" y1="698.80" x2="586.31" y2="743.50" stroke="rgba(255,255,255,0.58)" stroke-width="1" />
<line x1="590.08" y1="698.80" x2="590.08" y2="743.50" stroke="rgba(255,255,255,0.58)" stroke-width="1" />
<line x1="597.62" y1="698.80" x2="597.62" y2="743.50" stroke="rgba(255,255,255,0.58)" stroke-width="1" />
<line x1="601.39" y1="698.80" x2="601.39" y2="743.50" stroke="rgba(255,255,255,0.58)" stroke-width="1" />
<line x1="605.16" y1="698.80" x2="605.16" y2="743.50" stroke="rgba(255,255,255,0.58)" stroke-width="1" />
<rect x="575.00" y="755.00" width="3.77" height="44.70" fill="#2b6edf" />
<rect x="578.77" y="755.00" width="3.77" height="44.70" fill="#d6318d" />
<rect x="582.54" y="755.00" width="11.31" height="44.70" fill="#4badc1" />
<rect x="593.85" y="755.00" width="3.77" height="44.70" fill="#eaa232" />
<rect x="597.62" y="755.00" width="3.77" height="44.70" fill="#3f9ae8" />
<line x1="578.77" y1="755.00" x2="578.77" y2="799.70" stroke="rgba(255,255,255,0.58)" stroke-width="1" />
<line x1="582.54" y1="755.00" x2="582.54" y2="799.70" stroke="rgba(255,255,255,0.58)" stroke-width="1" />
<line x1="593.85" y1="755.00" x2="593.85" y2="799.70" stroke="rgba(255,255,255,0.58)" stroke-width="1" />
<line x1="597.62" y1="755.00" x2="597.62" y2="799.70" stroke="rgba(255,255,255,0.58)" stroke-width="1" />
<line x1="601.39" y1="755.00" x2="601.39" y2="799.70" stroke="rgba(255,255,255,0.58)" stroke-width="1" />
<line x1="575.00" y1="524.50" x2="575.00" y2="805.50" stroke="#4a4a4e" stroke-width="1.3" />
<text x="573.00" y="556.05" font-size="9.9" text-anchor="end" fill="#333336" >Ibrida</text>
<text x="573.00" y="612.35" font-size="9.9" text-anchor="end" fill="#333336" >Benzi<tspan letter-spacing="-0.95">...</tspan></text>
<text x="573.00" y="662.05" font-size="9.9" text-anchor="end" fill="#333336" >Non</text>
<text x="573.00" y="674.15" font-size="9.9" text-anchor="end" fill="#333336" >Menzi<tspan letter-spacing="-0.95">...</tspan></text>
<text x="573.00" y="724.35" font-size="9.9" text-anchor="end" fill="#333336" >Diesel</text>
<text x="573.00" y="780.55" font-size="9.9" text-anchor="end" fill="#333336" >Elettri<tspan letter-spacing="-0.95">...</tspan></text>
<text x="575.00" y="818.10" font-size="9.9" text-anchor="middle" fill="#333336" >0</text>
<text x="612.70" y="818.10" font-size="9.9" text-anchor="middle" fill="#333336" >10</text>
<text x="650.40" y="818.10" font-size="9.9" text-anchor="middle" fill="#333336" >20</text>
<text x="688.10" y="818.10" font-size="9.9" text-anchor="middle" fill="#333336" >30</text>
<text x="725.80" y="818.10" font-size="9.9" text-anchor="middle" fill="#333336" >40</text>
<rect x="575.00" y="492.20" width="15.80" height="7.60" fill="#2b6edf" />
<text x="594.00" y="499.00" font-size="8.8" text-anchor="start" fill="#3a3a3e" >Lazio</text>
<rect x="628.00" y="492.20" width="15.80" height="7.60" fill="#d6318d" />
<text x="647.00" y="499.00" font-size="8.8" text-anchor="start" fill="#3a3a3e" >na</text>
<rect x="670.80" y="492.20" width="15.80" height="7.60" fill="#4badc1" />
<text x="689.80" y="499.00" font-size="8.8" text-anchor="start" fill="#3a3a3e" >Lomba<tspan letter-spacing="-0.95">...</tspan></text>
<rect x="575.00" y="503.30" width="15.80" height="7.60" fill="#eaa232" />
<text x="594.00" y="510.10" font-size="8.8" text-anchor="start" fill="#3a3a3e" >Ca<tspan letter-spacing="-0.95">...</tspan></text>
<rect x="622.80" y="503.30" width="15.80" height="7.60" fill="#5335a6" />
<text x="641.80" y="510.10" font-size="8.8" text-anchor="start" fill="#3a3a3e" >Sicil<tspan letter-spacing="-0.95">...</tspan></text>
<rect x="676.80" y="503.30" width="15.80" height="7.60" fill="#de6e29" />
<text x="695.80" y="510.10" font-size="8.8" text-anchor="start" fill="#3a3a3e" >Pie<tspan letter-spacing="-0.95">...</tspan></text>
<rect x="575.00" y="514.30" width="15.80" height="7.60" fill="#7faa4b" />
<text x="594.00" y="521.10" font-size="8.8" text-anchor="start" fill="#3a3a3e" >Toscana</text>
<rect x="640.80" y="514.30" width="15.80" height="7.60" fill="#3f9ae8" />
<text x="659.80" y="521.10" font-size="8.8" text-anchor="start" fill="#3a3a3e" >Puglia</text>
<line x1="825.92" y1="525.50" x2="825.92" y2="806.30" stroke="rgba(40,30,60,0.17)" stroke-width="1" />
<line x1="851.05" y1="525.50" x2="851.05" y2="806.30" stroke="rgba(40,30,60,0.17)" stroke-width="1" />
<line x1="876.17" y1="525.50" x2="876.17" y2="806.30" stroke="rgba(40,30,60,0.17)" stroke-width="1" />
<line x1="901.30" y1="525.50" x2="901.30" y2="806.30" stroke="rgba(40,30,60,0.17)" stroke-width="1" />
<line x1="926.42" y1="525.50" x2="926.42" y2="806.30" stroke="rgba(40,30,60,0.17)" stroke-width="1" />
<line x1="951.55" y1="525.50" x2="951.55" y2="806.30" stroke="rgba(40,30,60,0.17)" stroke-width="1" />
<rect x="800.80" y="531.00" width="45.23" height="44.80" fill="#2b6edf" />
<rect x="846.02" y="531.00" width="20.10" height="44.80" fill="#d6318d" />
<rect x="866.12" y="531.00" width="20.10" height="44.80" fill="#4badc1" />
<rect x="886.22" y="531.00" width="5.03" height="44.80" fill="#de6e29" />
<rect x="891.25" y="531.00" width="10.05" height="44.80" fill="#eaa232" />
<rect x="901.30" y="531.00" width="10.05" height="44.80" fill="#7faa4b" />
<rect x="911.35" y="531.00" width="10.05" height="44.80" fill="#5335a6" />
<line x1="846.02" y1="531.00" x2="846.02" y2="575.80" stroke="rgba(255,255,255,0.58)" stroke-width="1" />
<line x1="866.12" y1="531.00" x2="866.12" y2="575.80" stroke="rgba(255,255,255,0.58)" stroke-width="1" />
<line x1="886.22" y1="531.00" x2="886.22" y2="575.80" stroke="rgba(255,255,255,0.58)" stroke-width="1" />
<line x1="891.25" y1="531.00" x2="891.25" y2="575.80" stroke="rgba(255,255,255,0.58)" stroke-width="1" />
<line x1="901.30" y1="531.00" x2="901.30" y2="575.80" stroke="rgba(255,255,255,0.58)" stroke-width="1" />
<line x1="911.35" y1="531.00" x2="911.35" y2="575.80" stroke="rgba(255,255,255,0.58)" stroke-width="1" />
<line x1="921.40" y1="531.00" x2="921.40" y2="575.80" stroke="rgba(255,255,255,0.58)" stroke-width="1" />
<rect x="800.80" y="587.30" width="10.05" height="44.80" fill="#2b6edf" />
<rect x="810.85" y="587.30" width="25.12" height="44.80" fill="#d6318d" />
<rect x="835.97" y="587.30" width="5.03" height="44.80" fill="#4badc1" />
<rect x="841.00" y="587.30" width="15.07" height="44.80" fill="#de6e29" />
<rect x="856.07" y="587.30" width="5.02" height="44.80" fill="#eaa232" />
<rect x="861.10" y="587.30" width="10.05" height="44.80" fill="#d44c7c" />
<line x1="810.85" y1="587.30" x2="810.85" y2="632.10" stroke="rgba(255,255,255,0.58)" stroke-width="1" />
<line x1="835.97" y1="587.30" x2="835.97" y2="632.10" stroke="rgba(255,255,255,0.58)" stroke-width="1" />
<line x1="841.00" y1="587.30" x2="841.00" y2="632.10" stroke="rgba(255,255,255,0.58)" stroke-width="1" />
<line x1="856.07" y1="587.30" x2="856.07" y2="632.10" stroke="rgba(255,255,255,0.58)" stroke-width="1" />
<line x1="861.10" y1="587.30" x2="861.10" y2="632.10" stroke="rgba(255,255,255,0.58)" stroke-width="1" />
<line x1="871.15" y1="587.30" x2="871.15" y2="632.10" stroke="rgba(255,255,255,0.58)" stroke-width="1" />
<rect x="800.80" y="643.50" width="20.10" height="44.80" fill="#2b6edf" />
<rect x="820.90" y="643.50" width="25.12" height="44.80" fill="#d6318d" />
<rect x="846.02" y="643.50" width="5.02" height="44.80" fill="#4badc1" />
<rect x="851.05" y="643.50" width="5.02" height="44.80" fill="#de6e29" />
<rect x="856.07" y="643.50" width="10.05" height="44.80" fill="#eaa232" />
<rect x="866.12" y="643.50" width="10.05" height="44.80" fill="#7faa4b" />
<rect x="876.17" y="643.50" width="5.02" height="44.80" fill="#d44c7c" />
<rect x="881.20" y="643.50" width="10.05" height="44.80" fill="#3f9ae8" />
<rect x="891.25" y="643.50" width="10.05" height="44.80" fill="#e592b4" />
<line x1="820.90" y1="643.50" x2="820.90" y2="688.30" stroke="rgba(255,255,255,0.58)" stroke-width="1" />
<line x1="846.02" y1="643.50" x2="846.02" y2="688.30" stroke="rgba(255,255,255,0.58)" stroke-width="1" />
<line x1="851.05" y1="643.50" x2="851.05" y2="688.30" stroke="rgba(255,255,255,0.58)" stroke-width="1" />
<line x1="856.07" y1="643.50" x2="856.07" y2="688.30" stroke="rgba(255,255,255,0.58)" stroke-width="1" />
<line x1="866.12" y1="643.50" x2="866.12" y2="688.30" stroke="rgba(255,255,255,0.58)" stroke-width="1" />
<line x1="876.17" y1="643.50" x2="876.17" y2="688.30" stroke="rgba(255,255,255,0.58)" stroke-width="1" />
<line x1="881.20" y1="643.50" x2="881.20" y2="688.30" stroke="rgba(255,255,255,0.58)" stroke-width="1" />
<line x1="891.25" y1="643.50" x2="891.25" y2="688.30" stroke="rgba(255,255,255,0.58)" stroke-width="1" />
<line x1="901.30" y1="643.50" x2="901.30" y2="688.30" stroke="rgba(255,255,255,0.58)" stroke-width="1" />
<rect x="800.80" y="699.50" width="5.02" height="44.80" fill="#2b6edf" />
<rect x="805.82" y="699.50" width="5.02" height="44.80" fill="#de6e29" />
<line x1="805.82" y1="699.50" x2="805.82" y2="744.30" stroke="rgba(255,255,255,0.58)" stroke-width="1" />
<line x1="810.85" y1="699.50" x2="810.85" y2="744.30" stroke="rgba(255,255,255,0.58)" stroke-width="1" />
<rect x="800.80" y="755.50" width="5.02" height="44.80" fill="#2b6edf" />
<rect x="805.82" y="755.50" width="5.02" height="44.80" fill="#d6318d" />
<rect x="810.85" y="755.50" width="10.05" height="44.80" fill="#4badc1" />
<rect x="820.90" y="755.50" width="5.02" height="44.80" fill="#de6e29" />
<line x1="805.82" y1="755.50" x2="805.82" y2="800.30" stroke="rgba(255,255,255,0.58)" stroke-width="1" />
<line x1="810.85" y1="755.50" x2="810.85" y2="800.30" stroke="rgba(255,255,255,0.58)" stroke-width="1" />
<line x1="820.90" y1="755.50" x2="820.90" y2="800.30" stroke="rgba(255,255,255,0.58)" stroke-width="1" />
<line x1="825.92" y1="755.50" x2="825.92" y2="800.30" stroke="rgba(255,255,255,0.58)" stroke-width="1" />
<line x1="800.80" y1="525.50" x2="800.80" y2="806.30" stroke="#4a4a4e" stroke-width="1.3" />
<text x="798.60" y="556.60" font-size="9.9" text-anchor="end" fill="#333336" >Ibrida</text>
<text x="798.60" y="612.90" font-size="9.9" text-anchor="end" fill="#333336" >Benzi<tspan letter-spacing="-0.95">...</tspan></text>
<text x="798.60" y="662.80" font-size="9.9" text-anchor="end" fill="#333336" >Non</text>
<text x="798.60" y="674.90" font-size="9.9" text-anchor="end" fill="#333336" >Menzi<tspan letter-spacing="-0.95">...</tspan></text>
<text x="798.60" y="725.10" font-size="9.9" text-anchor="end" fill="#333336" >Diesel</text>
<text x="798.60" y="781.10" font-size="9.9" text-anchor="end" fill="#333336" >Elettri<tspan letter-spacing="-0.95">...</tspan></text>
<text x="800.80" y="818.80" font-size="9.9" text-anchor="middle" fill="#333336" >0</text>
<text x="851.05" y="818.80" font-size="9.9" text-anchor="middle" fill="#333336" >10</text>
<text x="901.30" y="818.80" font-size="9.9" text-anchor="middle" fill="#333336" >20</text>
<text x="951.55" y="818.80" font-size="9.9" text-anchor="middle" fill="#333336" >30</text>
<rect x="800.50" y="493.00" width="16.00" height="7.60" fill="#2b6edf" />
<text x="819.70" y="499.80" font-size="8.8" text-anchor="start" fill="#3a3a3e" >Roma</text>
<rect x="857.30" y="493.00" width="16.00" height="7.60" fill="#d6318d" />
<text x="876.50" y="499.80" font-size="8.8" text-anchor="start" fill="#3a3a3e" >na</text>
<rect x="800.50" y="504.10" width="16.00" height="7.60" fill="#4badc1" />
<text x="819.70" y="510.90" font-size="8.8" text-anchor="start" fill="#3a3a3e" >Mila<tspan letter-spacing="-0.95">...</tspan></text>
<rect x="855.30" y="504.10" width="16.00" height="7.60" fill="#de6e29" />
<text x="874.50" y="510.90" font-size="8.8" text-anchor="start" fill="#3a3a3e" >Nap<tspan letter-spacing="-0.95">...</tspan></text>
<rect x="800.50" y="515.10" width="16.00" height="7.60" fill="#eaa232" />
<text x="819.70" y="521.90" font-size="8.8" text-anchor="start" fill="#3a3a3e" >Torino</text>
<rect x="858.00" y="515.10" width="16.00" height="7.60" fill="#7faa4b" />
<text x="877.20" y="521.90" font-size="8.8" text-anchor="start" fill="#3a3a3e" >Paler<tspan letter-spacing="-0.95">...</tspan></text>
<path d="M941.3,503 L941.3,511 L933.3,507 Z" fill="#c4c4c8"/>
<path d="M943.8,503 L943.8,511 L951.6,507 Z" fill="#111"/>
</g>
<rect x="51.7" y="167.5" width="948.6" height="716.6" rx="17.8" ry="17.8" fill="url(#ov)"/>
</svg></body></html>
